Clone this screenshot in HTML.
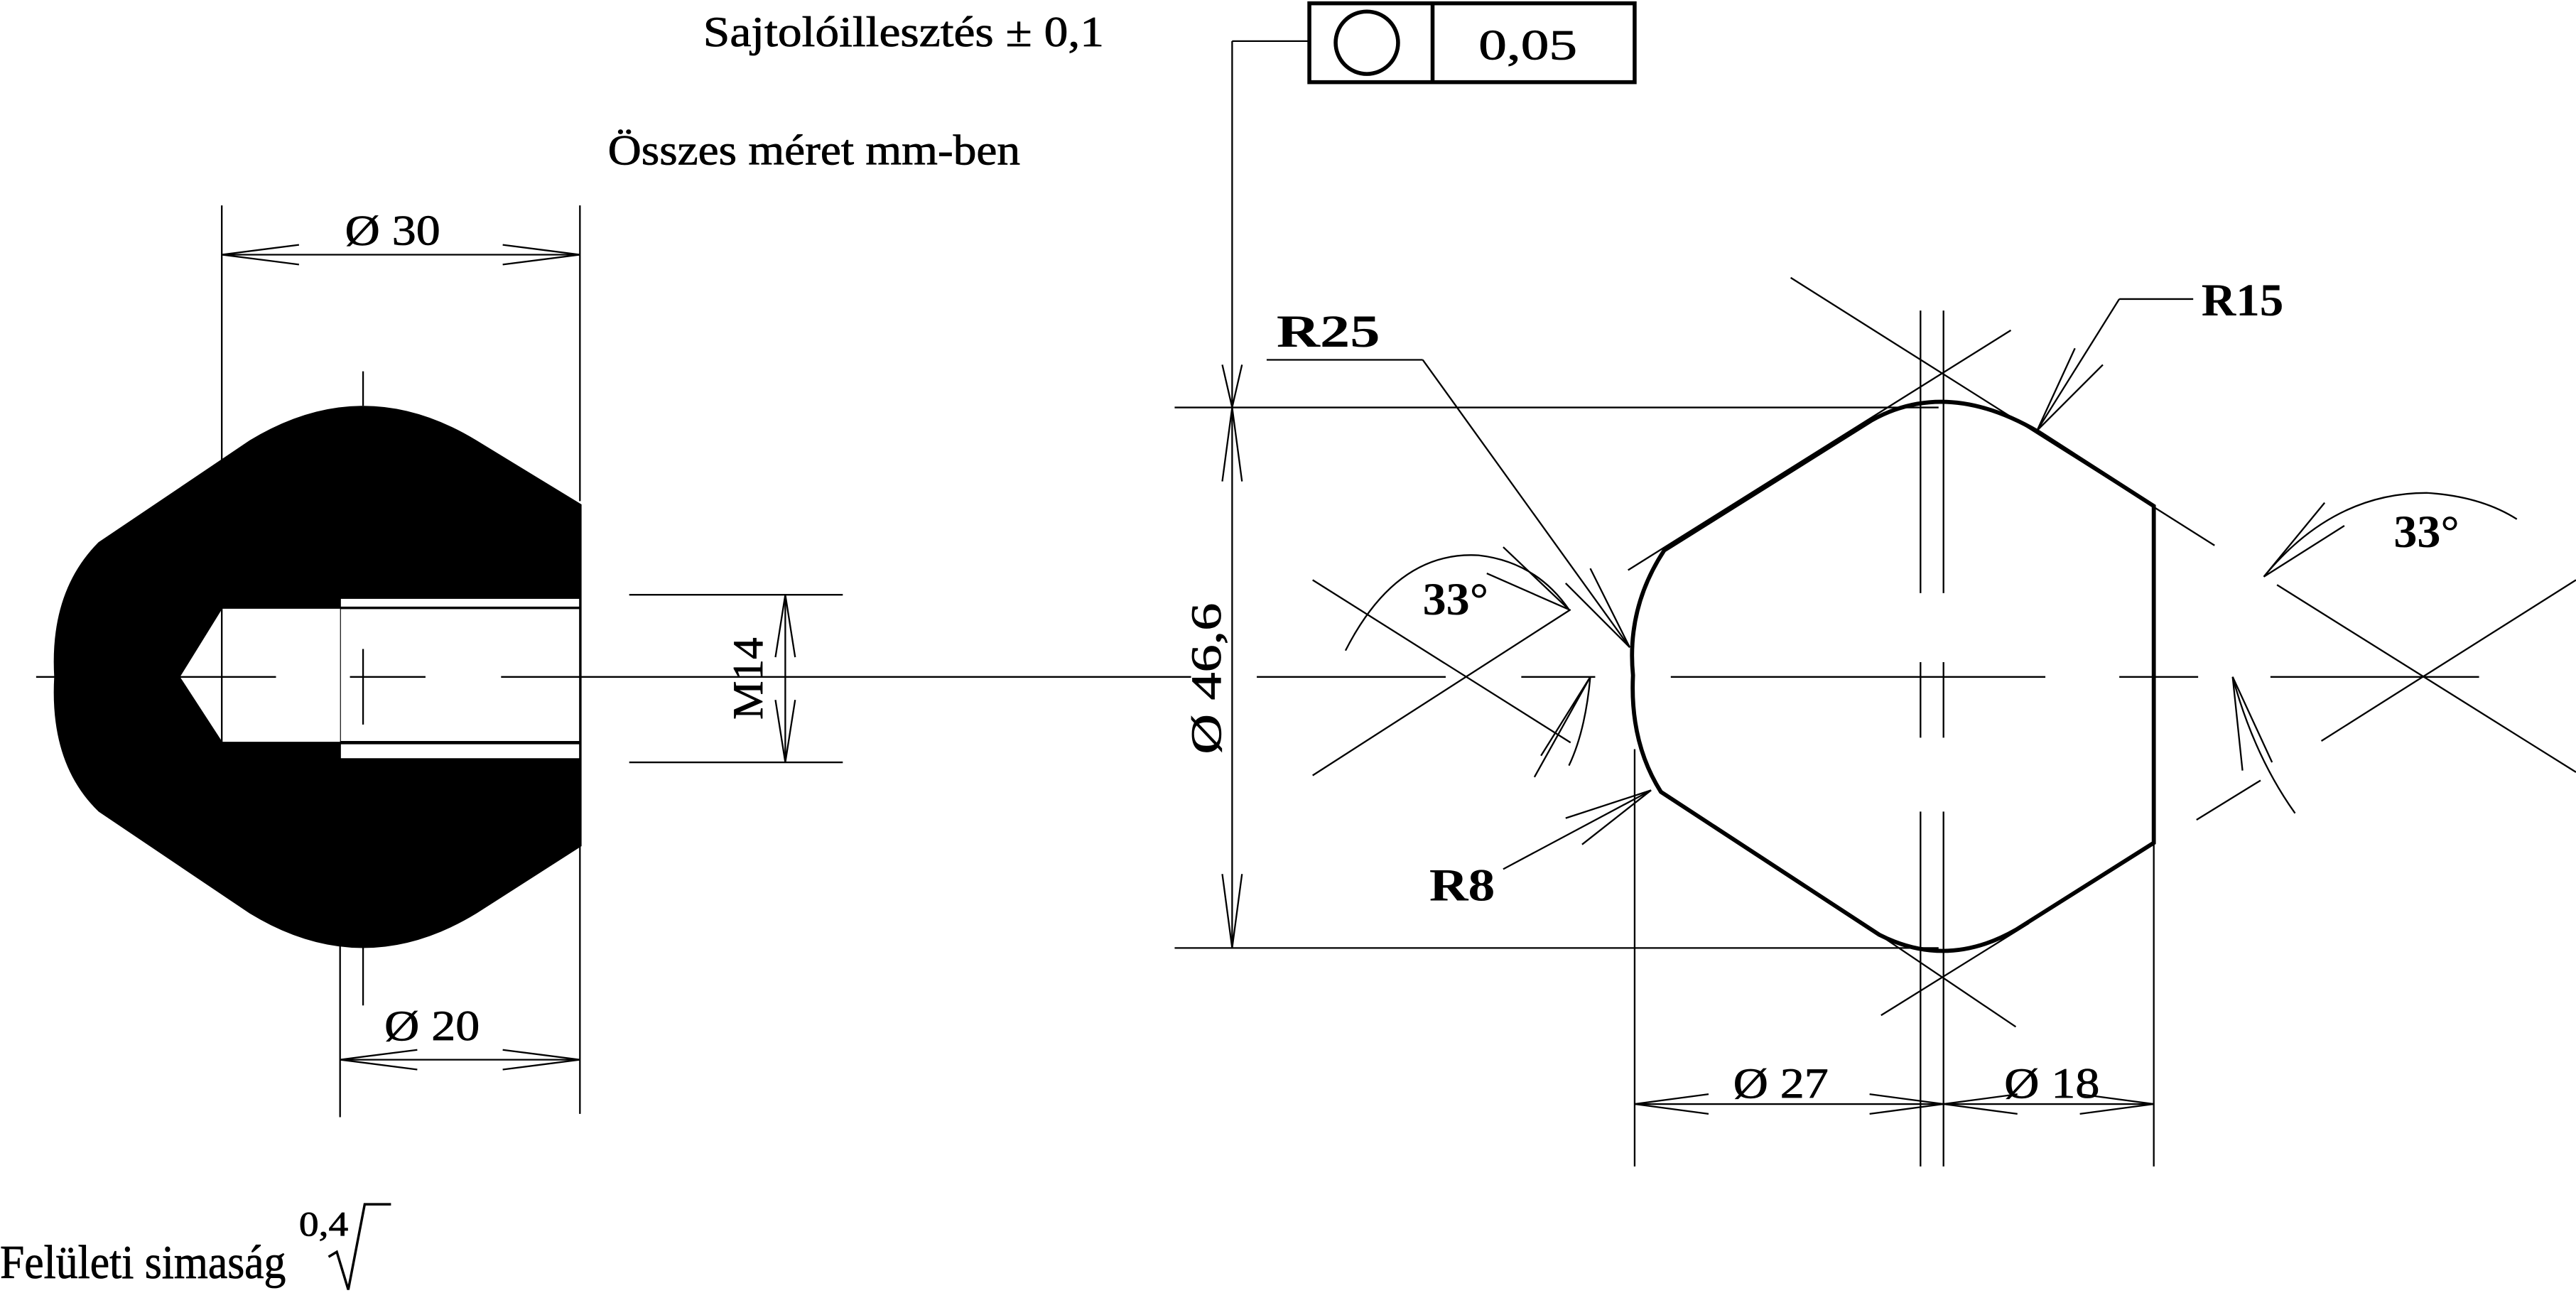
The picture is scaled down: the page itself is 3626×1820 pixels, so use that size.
<!DOCTYPE html>
<html><head><meta charset="utf-8"><style>
html,body{margin:0;padding:0;background:#fff;}
svg{display:block;}
text{font-family:"Liberation Serif",serif;fill:#000;}
</style></head><body>
<svg width="3626" height="1820" viewBox="0 0 1568 787" xmlns="http://www.w3.org/2000/svg">
<g fill="none" stroke="#000" stroke-width="1">
<!-- LEFT PART -->
<path d="M354,307 L290,268 Q221,226 152,268 L60,330 Q30,360 33,412 Q30,465 60,494 L152,556 Q221,598 290,556 L354,515 Z" fill="#000" stroke="none"/>
<rect x="207" y="364" width="146" height="98" fill="#fff" stroke="#000" stroke-width="1"/>
<path d="M135,370 L207,370 L207,452 L135,452 L109,412 Z" fill="#fff" stroke="none"/>
<path d="M109,412 L135,370 L207,370 M109,412 L135,452 L207,452 M135,370 L135,452"/>
<line x1="207" y1="370" x2="353" y2="370" stroke-width="1.5"/>
<line x1="207" y1="452" x2="353" y2="452" stroke-width="2"/>
<!-- center lines left -->
<line x1="22" y1="412" x2="34" y2="412"/>
<line x1="109" y1="412" x2="168" y2="412"/>
<line x1="213" y1="412" x2="259" y2="412"/>
<line x1="305" y1="412" x2="725" y2="412"/>
<line x1="765" y1="412" x2="880" y2="412"/>
<line x1="221" y1="226" x2="221" y2="247"/>
<line x1="221" y1="395" x2="221" y2="441"/>
<line x1="221" y1="576" x2="221" y2="612"/>
<!-- extension lines -->
<line x1="135" y1="125" x2="135" y2="282"/>
<line x1="353" y1="125" x2="353" y2="305"/>
<line x1="207" y1="462" x2="207" y2="680"/>
<line x1="353" y1="515" x2="353" y2="678"/>
<!-- Ø30 -->
<line x1="135" y1="155" x2="353" y2="155"/>
<path d="M182,149 L135,155 L182,161 M306,149 L353,155 L306,161"/>
<!-- Ø20 -->
<line x1="207" y1="645" x2="353" y2="645"/>
<path d="M254,639 L207,645 L254,651 M306,639 L353,645 L306,651"/>
<!-- M14 -->
<line x1="383" y1="362" x2="513" y2="362"/>
<line x1="383" y1="464" x2="513" y2="464"/>
<line x1="478" y1="362" x2="478" y2="464"/>
<path d="M472,400 L478,362 L484,400 M472,426 L478,464 L484,426"/>
<!-- Ø46,6 -->
<line x1="715" y1="248" x2="1180" y2="248"/>
<line x1="715" y1="577" x2="1180" y2="577"/>
<line x1="750" y1="25" x2="750" y2="577"/>
<line x1="750" y1="25" x2="797" y2="25"/>
<path d="M744,293 L750,248 L756,293 M744,532 L750,577 L756,532 M744,222 L750,248 L756,222"/>
<!-- tolerance frame -->
<rect x="797" y="2" width="198" height="48" stroke-width="2.4"/>
<line x1="872" y1="2" x2="872" y2="50" stroke-width="2.4"/>
<circle cx="832" cy="26" r="19" stroke-width="2.4"/>
<!-- HEX -->
<path d="M1311,308 L1241,263 Q1185,230 1139,256 L1013,335 Q990,370 994,411 Q992,452 1011,482 L1144,569 Q1185,590 1227,566 L1311,513 Z" stroke-width="2.5"/>
<!-- hex center lines -->
<line x1="926" y1="412" x2="971" y2="412"/>
<line x1="1017" y1="412" x2="1245" y2="412"/>
<line x1="1290" y1="412" x2="1338" y2="412"/>
<line x1="1382" y1="412" x2="1509" y2="412"/>
<line x1="1169" y1="189" x2="1169" y2="361"/>
<line x1="1183" y1="189" x2="1183" y2="361"/>
<line x1="1169" y1="403" x2="1169" y2="449"/>
<line x1="1183" y1="403" x2="1183" y2="449"/>
<line x1="1169" y1="494" x2="1169" y2="710"/>
<line x1="1183" y1="494" x2="1183" y2="710"/>
<!-- construction lines -->
<line x1="1090" y1="169" x2="1348" y2="332"/>
<line x1="1224" y1="201" x2="991" y2="347"/>
<line x1="1145" y1="618" x2="1235" y2="562"/>
<line x1="1227" y1="625" x2="1144" y2="569"/>
<!-- Ø27 / Ø18 -->
<line x1="995" y1="456" x2="995" y2="710"/>
<line x1="1311" y1="513" x2="1311" y2="710"/>
<line x1="995" y1="672" x2="1311" y2="672"/>
<path d="M1040,666 L995,672 L1040,678 M1138,666 L1183,672 L1138,678 M1228,666 L1183,672 L1228,678 M1266,666 L1311,672 L1266,678"/>
<!-- R25 leader -->
<line x1="771" y1="219" x2="866" y2="219"/>
<line x1="866" y1="219" x2="992" y2="394"/>
<path d="M953,355 L992,394 L968,346"/>
<!-- R8 leader -->
<line x1="915" y1="529" x2="1005" y2="481"/>
<path d="M953,498 L1005,481 L963,514"/>
<!-- R15 leader -->
<line x1="1290" y1="182" x2="1335" y2="182"/>
<line x1="1290" y1="182" x2="1240" y2="262"/>
<path d="M1263,212 L1240,262 L1280,222"/>
<!-- left 33° -->
<line x1="799" y1="353" x2="956" y2="452"/>
<line x1="799" y1="472" x2="956" y2="371"/>
<path d="M819,396 Q850,335 900,338 Q935,342 955,371"/>
<path d="M968,412 Q965,445 955,466"/>
<path d="M915,333 L955,371 L905,349 M938,460 L968,412 L934,473"/>
<!-- right 33° -->
<line x1="1413" y1="451" x2="1568" y2="353"/>
<line x1="1386" y1="356" x2="1568" y2="470"/>
<path d="M1378,351 Q1420,300 1477,300 Q1510,302 1532,316"/>
<path d="M1359,412 Q1372,460 1397,495"/>
<path d="M1415,306 L1378,351 L1427,320 M1365,469 L1359,412 L1383,464"/>
<line x1="1337" y1="499" x2="1376" y2="475"/>
<!-- surface radical -->
<path d="M200,765 L205,762 L212,785 L222,733 L238,733" stroke-width="1.5"/>
</g>
<!-- TEXT -->
<g font-size="26" stroke="#000" stroke-width="0.35">
<text x="428" y="28" textLength="244" lengthAdjust="spacingAndGlyphs">Sajtolóillesztés ± 0,1</text>
<text x="370" y="100" textLength="251" lengthAdjust="spacingAndGlyphs">Összes méret mm-ben</text>
<text x="0" y="778" font-size="29" textLength="174" lengthAdjust="spacingAndGlyphs">Felületi simaság</text>
<text x="182" y="752" font-size="21" textLength="30" lengthAdjust="spacingAndGlyphs">0,4</text>
<text x="210" y="149" textLength="58" lengthAdjust="spacingAndGlyphs">Ø 30</text>
<text x="234" y="633" textLength="58" lengthAdjust="spacingAndGlyphs">Ø 20</text>
<text x="1055" y="668" textLength="58" lengthAdjust="spacingAndGlyphs">Ø 27</text>
<text x="1220" y="668" textLength="58" lengthAdjust="spacingAndGlyphs">Ø 18</text>
<text x="900" y="36" textLength="60" lengthAdjust="spacingAndGlyphs">0,05</text>
<text transform="translate(464,413) rotate(-90)" text-anchor="middle" textLength="50" lengthAdjust="spacingAndGlyphs">M14</text>
<text transform="translate(743,413) rotate(-90)" text-anchor="middle" textLength="92" lengthAdjust="spacingAndGlyphs">Ø 46,6</text>
</g>
<g font-size="28" font-weight="bold">
<text x="777" y="211" textLength="63" lengthAdjust="spacingAndGlyphs">R25</text>
<text x="1340" y="192" textLength="50" lengthAdjust="spacingAndGlyphs">R15</text>
<text x="870" y="548" textLength="40" lengthAdjust="spacingAndGlyphs">R8</text>
<text x="866" y="374" textLength="40" lengthAdjust="spacingAndGlyphs">33°</text>
<text x="1457" y="333" textLength="40" lengthAdjust="spacingAndGlyphs">33°</text>
</g>
</svg>
</body></html>
